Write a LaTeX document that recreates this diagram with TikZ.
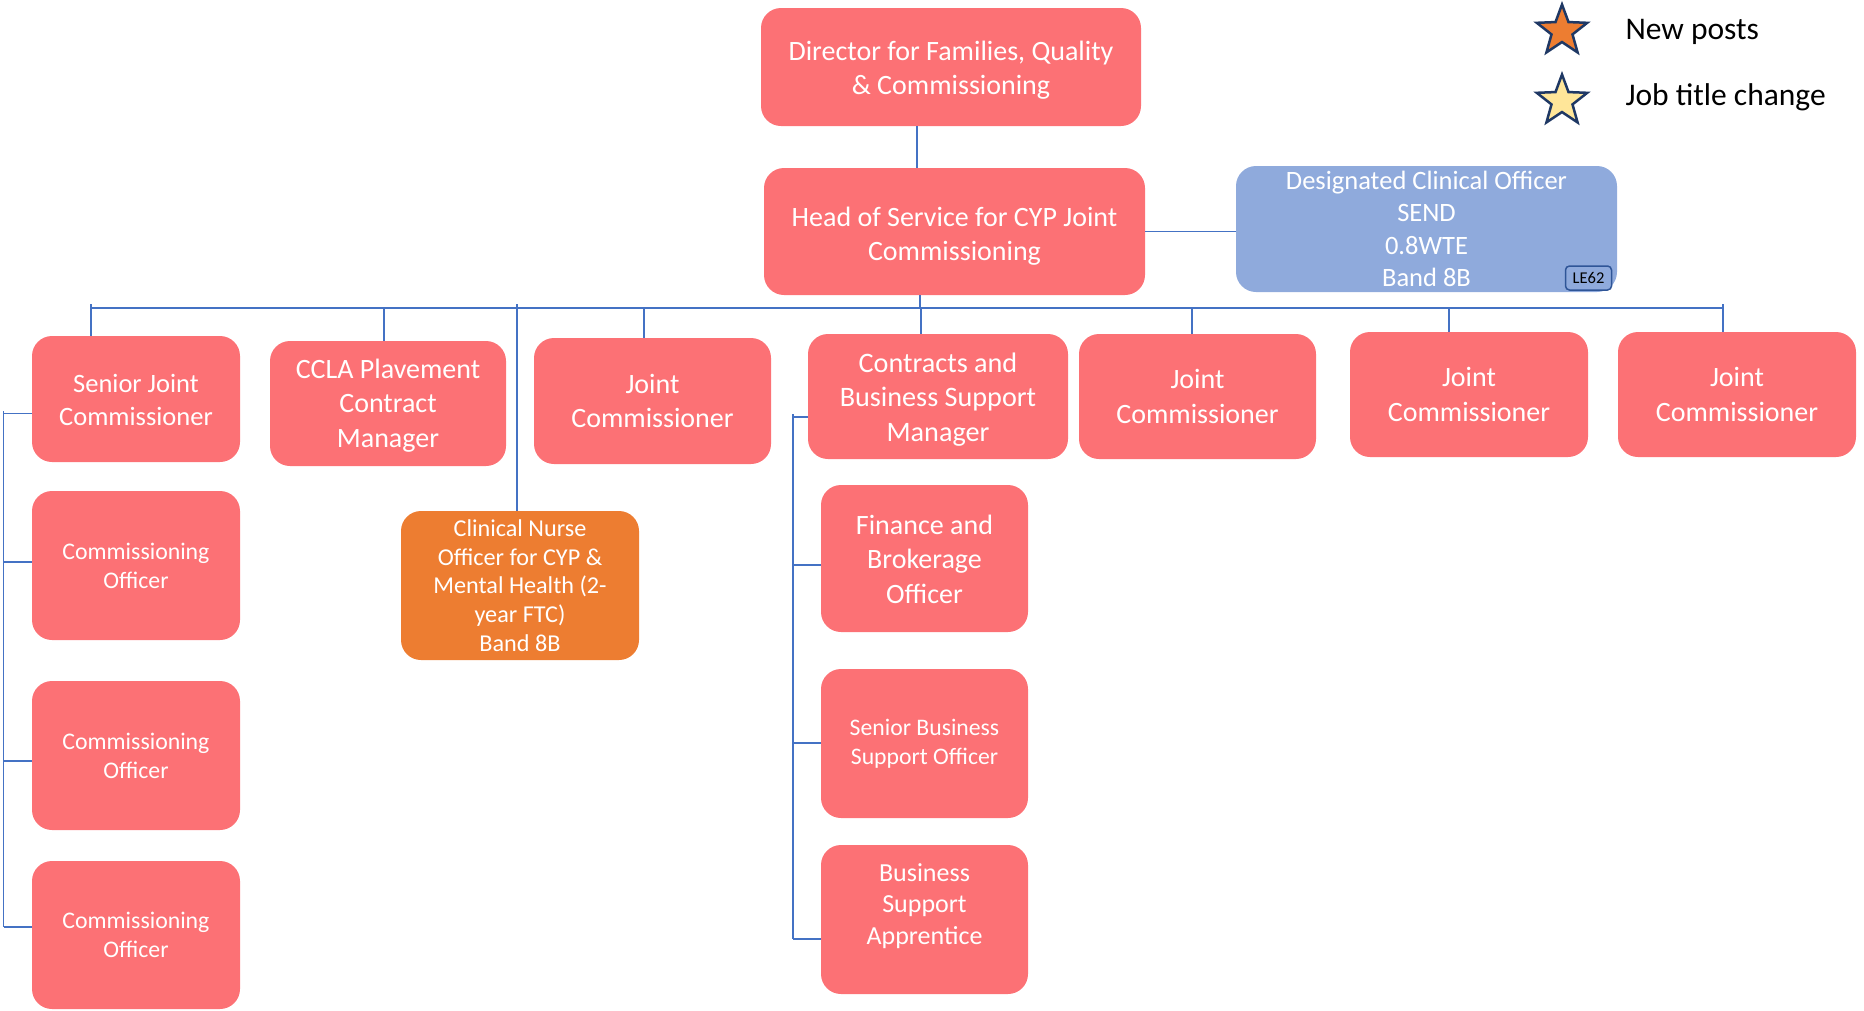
\documentclass[tikz,border=0pt]{standalone}
\usepackage{fontspec}
\setmainfont{Carlito}
\usetikzlibrary{shapes.geometric}
\definecolor{boxpink}{RGB}{252,113,117}
\definecolor{boxorange}{RGB}{237,125,49}
\definecolor{boxblue}{RGB}{143,170,220}
\definecolor{linkblue}{RGB}{68,114,196}
\definecolor{navy}{RGB}{31,56,100}
\definecolor{staryellow}{RGB}{255,230,153}
\definecolor{badgeedge}{RGB}{47,85,151}
\newcommand{\fsz}[1]{\fontsize{#1}{1.22\dimexpr #1pt\relax}\selectfont}
\newcommand{\shifted}[2]{\raisebox{#1}[\height][\depth]{\begin{tabular}{@{}c@{}}#2\end{tabular}}}
\tikzset{
  post/.style={rectangle, rounded corners=20, fill=boxpink, text=white, align=center, inner sep=2pt},
  link/.style={draw=linkblue, line width=1.5},
  legstar/.style={star, star points=5, star point ratio=2.4, minimum size=53, draw=navy, line width=2.5, inner sep=0pt}
}
\begin{document}
\begin{tikzpicture}[x=1pt,y=-1pt]
\useasboundingbox (0,0) rectangle (1864,1010);

% top
\node[post, minimum width=380, minimum height=118, font=\fsz{28}] (dir) at (951,67) {\shifted{-3.5pt}{Director for Families, Quality\\ \& Commissioning}};
\node[post, minimum width=381, minimum height=127, font=\fsz{28}] (head) at (954.5,231.5) {\shifted{-5pt}{Head of Service for CYP Joint\\ Commissioning}};
\node[post, fill=boxblue, minimum width=381, minimum height=126, font=\fsz{26.5}] (dco) at (1426.5,229) {Designated Clinical Officer\\ SEND\\ 0.8WTE\\ Band 8B};
\node[rectangle, rounded corners=4, draw=badgeedge, line width=1.5, fill=boxblue, text=black, minimum width=46, minimum height=24, inner sep=0pt, font=\fsz{16.5}] (badge) at (1588.5,278) {LE62};

% row 1
\node[post, minimum width=208, minimum height=126, font=\fsz{26.5}] (sjc) at (136,399) {\shifted{-3.5pt}{Senior Joint\\ Commissioner}};
\node[post, minimum width=236, minimum height=125, font=\fsz{28}] (ccla) at (388,403.5) {\shifted{-2.5pt}{CCLA Plavement\\ Contract\\ Manager}};
\node[post, minimum width=237, minimum height=126, font=\fsz{28}] (jc1) at (652.5,401) {Joint\\ Commissioner};
\node[post, minimum width=260, minimum height=125, font=\fsz{28.2}] (cbsm) at (938,396.5) {\shifted{-3.5pt}{Contracts and\\ Business Support\\ Manager}};
\node[post, minimum width=237, minimum height=125, font=\fsz{28}] (jc2) at (1197.5,396.5) {Joint\\ Commissioner};
\node[post, minimum width=238, minimum height=125, font=\fsz{28}] (jc3) at (1469,394.5) {Joint\\ Commissioner};
\node[post, minimum width=238, minimum height=125, font=\fsz{28}] (jc4) at (1737,394.5) {Joint\\ Commissioner};

% nurse
\node[post, fill=boxorange, minimum width=238, minimum height=149, font=\fontsize{24.2}{28.8}\selectfont] (cno) at (520,585.5) {Clinical Nurse\\ Officer for CYP \&\\ Mental Health (2-\\ year FTC)\\ Band 8B};

% left column
\node[post, minimum width=208, minimum height=149, font=\fsz{23.8}] (co1) at (136,565.5) {Commissioning\\ Officer};
\node[post, minimum width=208, minimum height=149, font=\fsz{23.8}] (co2) at (136,755.5) {Commissioning\\ Officer};
\node[post, minimum width=208, minimum height=148, font=\fsz{23.8}] (co3) at (136,935) {Commissioning\\ Officer};

% contracts column
\node[post, minimum width=207, minimum height=147, font=\fsz{28}] (fbo) at (924.5,558.5) {\shifted{-3.5pt}{Finance and\\ Brokerage\\ Officer}};
\node[post, minimum width=207, minimum height=149, font=\fsz{23.7}] (sbso) at (924.5,743.5) {Senior Business\\ Support Officer};
\node[post, minimum width=207, minimum height=149, font=\fsz{26}] (bsa) at (924.5,919.5) {\shifted{13pt}{Business\\ Support\\ Apprentice}};

% legend
\node[legstar, fill=boxorange] (s1) at (1562,31) {};
\node[legstar, fill=staryellow] (s2) at (1562,101) {};
\node[anchor=west, font=\fsz{31.5}] (l1) at (1622,32) {New posts};
\node[anchor=west, font=\fsz{31.5}] (l2) at (1622,97) {Job title change};

% connectors
\coordinate (dtop) at (917,126);
\draw[link] (dtop) -- (dtop |- head.north);
\draw[link] (head.east) -- (dco.west |- head.east);
\coordinate (busL) at (91,308);
\coordinate (busR) at (1724,308);
\draw[link] (busL) -- (busR);
\coordinate (hb) at (920,308);
\draw[link] (hb |- head.south) -- (hb);
\coordinate (t1) at (91,304);
\coordinate (t2) at (384,308);
\coordinate (t3) at (517,304);
\coordinate (t4) at (644,308);
\coordinate (t5) at (921,308);
\coordinate (t6) at (1192,308);
\coordinate (t7) at (1449,308);
\coordinate (t8) at (1723,304);
\draw[link] (t1) -- (t1 |- sjc.north);
\draw[link] (t2) -- (t2 |- ccla.north);
\draw[link] (t3) -- (t3 |- cno.north);
\draw[link] (t4) -- (t4 |- jc1.north);
\draw[link] (t5) -- (t5 |- cbsm.north);
\draw[link] (t6) -- (t6 |- jc2.north);
\draw[link] (t7) -- (t7 |- jc3.north);
\draw[link] (t8) -- (t8 |- jc4.north);

% left column connectors
\coordinate (la) at (3.5,411);
\coordinate (l0) at (3.5,413.5);
\coordinate (l1) at (3.5,562);
\coordinate (l2) at (3.5,761);
\coordinate (l3) at (3.5,927);
\draw[link] (la) -- (l3);
\draw[link] (l0) -- (l0 -| sjc.west);
\draw[link] (l1) -- (l1 -| co1.west);
\draw[link] (l2) -- (l2 -| co2.west);
\draw[link] (l3) -- (l3 -| co3.west);

% contracts column connectors
\coordinate (ca) at (793,414);
\coordinate (c0) at (793,417);
\coordinate (c1) at (793,565);
\coordinate (c2) at (793,743);
\coordinate (c3) at (793,939);
\draw[link] (ca) -- (c3);
\draw[link] (c0) -- (c0 -| cbsm.west);
\draw[link] (c1) -- (c1 -| fbo.west);
\draw[link] (c2) -- (c2 -| sbso.west);
\draw[link] (c3) -- (c3 -| bsa.west);
\end{tikzpicture}
\end{document}
